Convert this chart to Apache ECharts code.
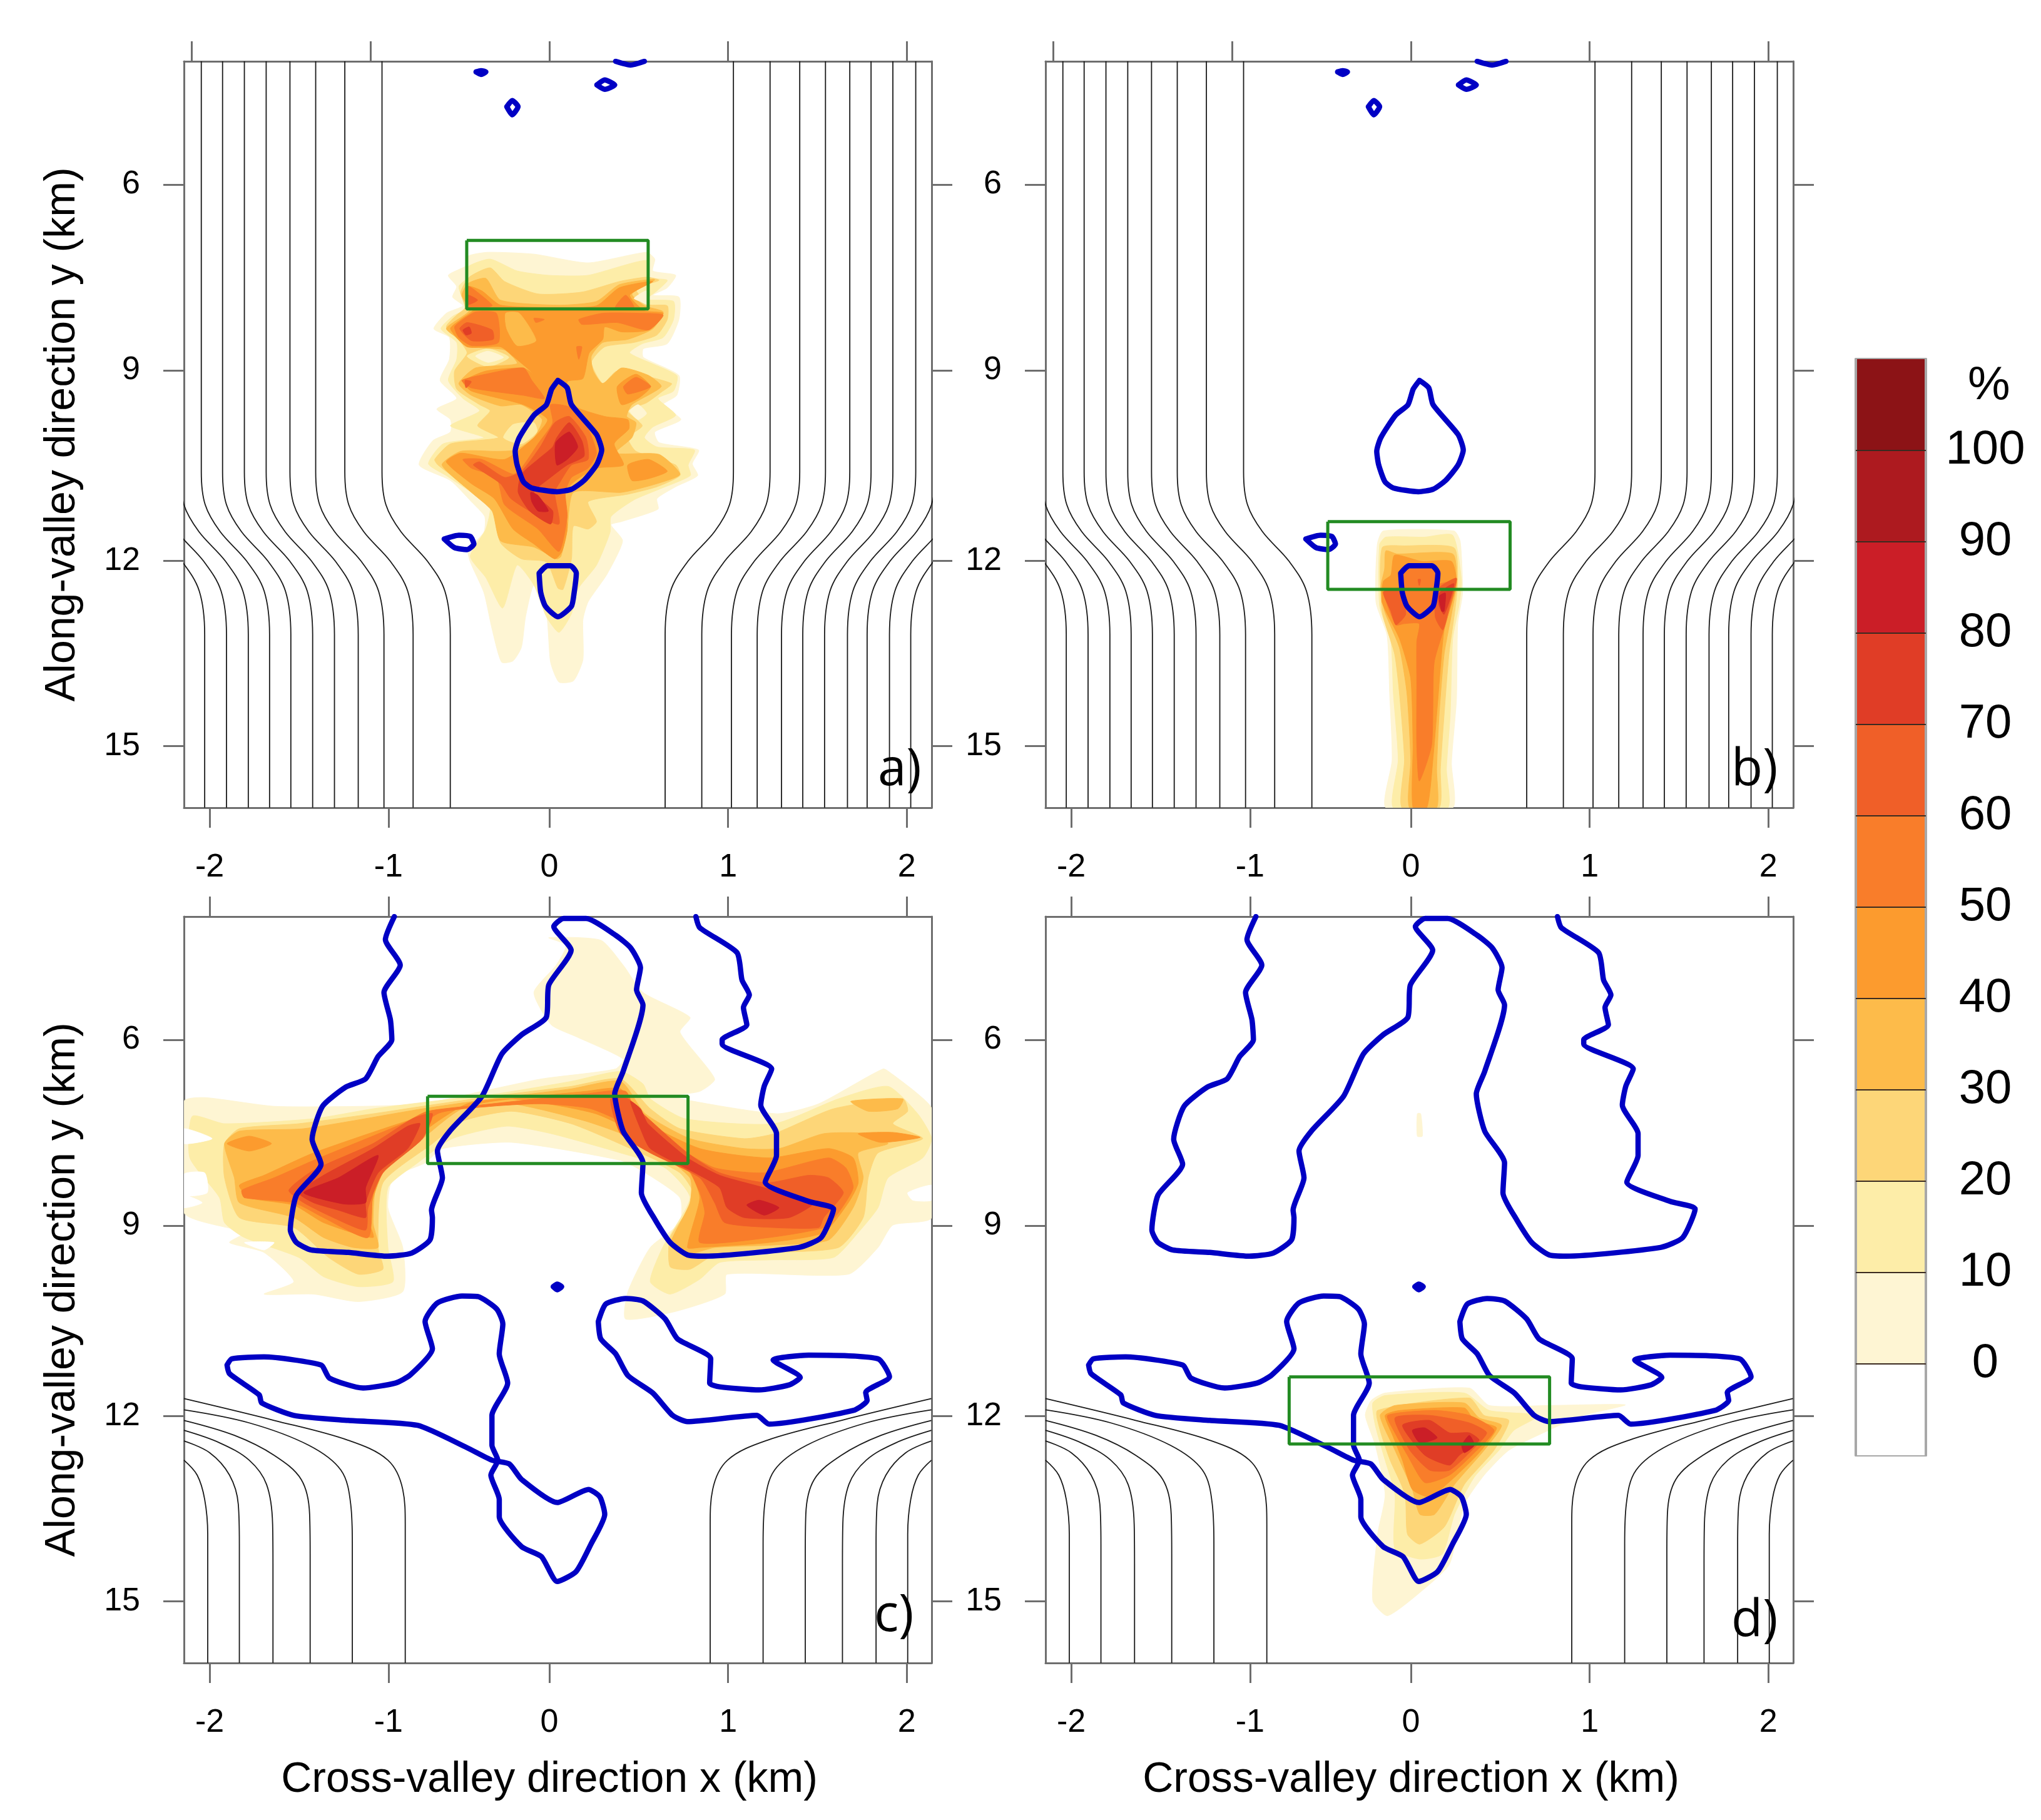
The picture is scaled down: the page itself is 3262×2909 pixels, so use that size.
<!DOCTYPE html>
<html><head><meta charset="utf-8">
<style>html,body{margin:0;padding:0;background:#fff}#c{width:3262px;height:2909px}</style>
<script src="https://cdn.jsdelivr.net/npm/echarts@6/dist/echarts.min.js"></script>
</head><body><div id="c"></div>
<script>
// ---------- axes ----------
const xLabels = ['-2','-1','0','1','2'];
const xTicksTrue = [-2,-1,0,1,2];
const xTicksShifted = [-1.9,-0.9,0,1,2];
const yTicks = [5.98,8.97,12.03,15.01];
const yLabels = ['6','9','12','15'];
const xTitle = 'Cross-valley direction x (km)';
const yTitle = 'Along-valley direction y (km)';
const bandEdges = [-10,0,10,20,30,40,50,60,70,80,90,100,110];
const bandColors = ['#FFFFFF','#FEF5D3','#FDEDA8','#FDD678','#FDBB4A','#FC9B2E','#F97D2A','#F05F28','#E03D26','#CB1E27','#AD1A1F','#8C1316'];
const barLabels = [0,10,20,30,40,50,60,70,80,90,100];

// ---------- terrain streamlines (km) ----------
const streamYab = [4,10.6,11.13,11.56,12.04,12.52,13.22,16];
const streamXab = [
[-.936,-.936,-.914,-.831,-.681,-.584,-.554,-.554],
[-1.144,-1.144,-1.122,-1.039,-.889,-.792,-.762,-.762],
[-1.307,-1.307,-1.285,-1.202,-1.052,-.955,-.925,-.925],
[-1.451,-1.451,-1.429,-1.346,-1.196,-1.099,-1.069,-1.069],
[-1.584,-1.584,-1.562,-1.479,-1.329,-1.232,-1.202,-1.202],
[-1.706,-1.706,-1.684,-1.601,-1.451,-1.354,-1.324,-1.324],
[-1.828,-1.828,-1.806,-1.723,-1.573,-1.476,-1.446,-1.446],
[-1.947,-1.947,-1.925,-1.842,-1.692,-1.595,-1.565,-1.565],
[-2.066,-2.066,-2.044,-1.961,-1.811,-1.714,-1.684,-1.684],
[-2.188,-2.188,-2.166,-2.083,-1.933,-1.836,-1.806,-1.806],
[-2.31,-2.31,-2.288,-2.205,-2.055,-1.958,-1.928,-1.928],
[1.03,1.03,1.008,.925,.775,.678,.648,.648],
[1.235,1.235,1.213,1.13,.98,.883,.853,.853],
[1.401,1.401,1.379,1.296,1.146,1.049,1.019,1.019],
[1.545,1.545,1.523,1.44,1.29,1.193,1.163,1.163],
[1.681,1.681,1.659,1.576,1.426,1.329,1.299,1.299],
[1.80,1.80,1.778,1.695,1.545,1.448,1.418,1.418],
[1.922,1.922,1.90,1.817,1.667,1.57,1.54,1.54],
[2.05,2.05,2.028,1.945,1.795,1.698,1.668,1.668],
[2.16,2.16,2.138,2.055,1.905,1.808,1.778,1.778],
[2.285,2.285,2.263,2.18,2.03,1.933,1.903,1.903],
[2.404,2.404,2.382,2.299,2.149,2.052,2.022,2.022]];
const streamsCD = [
[-2.044,11.75,-1.54,12.10,-1.125,12.42,-.903,12.74,-.82,13.21,-.806,13.77,-.806,16],
[-2.044,11.93,-1.679,12.14,-1.346,12.50,-1.166,12.90,-1.111,13.45,-1.102,14.09,-1.102,16],
[-2.044,12.10,-1.762,12.34,-1.54,12.66,-1.388,13.05,-1.341,13.61,-1.338,14.25,-1.338,16],
[-2.044,12.26,-1.845,12.46,-1.679,12.74,-1.582,13.13,-1.548,13.77,-1.546,14.41,-1.546,16],
[-2.044,12.43,-1.90,12.62,-1.789,12.98,-1.74,13.45,-1.734,14.09,-1.734,14.88,-1.734,16],
[-2.044,12.74,-1.97,12.98,-1.928,13.37,-1.911,13.93,-1.911,14.88,-1.911,16],
[2.138,11.75,1.634,12.10,1.219,12.42,.997,12.74,.914,13.21,.90,13.77,.90,16],
[2.138,11.93,1.773,12.14,1.44,12.50,1.26,12.90,1.205,13.45,1.196,14.09,1.196,16],
[2.138,12.10,1.856,12.34,1.634,12.66,1.482,13.05,1.435,13.61,1.432,14.25,1.432,16],
[2.138,12.26,1.939,12.46,1.773,12.74,1.676,13.13,1.642,13.77,1.64,14.41,1.64,16],
[2.138,12.43,1.994,12.62,1.883,12.98,1.834,13.45,1.828,14.09,1.828,14.88,1.828,16],
[2.138,12.74,2.064,12.98,2.022,13.37,2.005,13.93,2.005,14.88,2.005,16]];

// ---------- blue contours (km) ----------
const blueAB = [
[.048,9.13,.10,9.25,.124,9.52,.264,10.0,.293,10.25,.264,10.49,.194,10.74,.124,10.88,.042,10.92,-.098,10.86,-.145,10.76,-.18,10.49,-.191,10.27,-.168,10.05,-.086,9.69,-.016,9.52,.013,9.27,.048,9.13],
[-.588,11.68,-.506,11.62,-.442,11.64,-.422,11.76,-.46,11.85,-.53,11.82,-.588,11.68],
[-.057,12.23,-.011,12.11,.118,12.11,.151,12.23,.139,12.54,.124,12.76,.048,12.93,-.022,12.76,-.048,12.54,-.057,12.23],
[-.41,4.17,-.382,4.15,-.355,4.17,-.382,4.21,-.41,4.17],
[-.238,4.73,-.208,4.63,-.175,4.73,-.208,4.86,-.238,4.73],
[.266,4.38,.31,4.30,.366,4.38,.31,4.45,.266,4.38],
[.371,4.0,.454,4.06,.532,4.0]];
const blueCD = [
[-.867,4,-.917,4.37,-.834,4.78,-.925,5.22,-.889,5.66,-.881,5.98,-.958,6.25,-1.028,6.61,-1.138,6.74,-1.269,7.05,-1.327,7.58,-1.277,7.98,-1.415,8.48,-1.449,9.04,-1.415,9.24,-1.332,9.36,-1.125,9.40,-.903,9.46,-.77,9.41,-.668,9.20,-.654,8.84,-.659,8.72,-.598,8.20,-.626,7.77,-.557,7.45,-.377,6.89,-.266,6.21,-.155,5.90,-.017,5.62,-.003,5.10,.122,4.54,.025,4.16,.08,4.03,.205,4.03,.371,4.30,.454,4.50,.51,4.82,.488,5.18,.524,5.42,.413,6.49,.366,6.85,.413,7.45,.524,7.96,.515,8.44,.593,8.88,.676,9.24,.773,9.44,.87,9.46,1.396,9.32,1.521,9.16,1.59,8.70,1.451,8.58,1.208,8.27,1.271,7.84,1.271,7.49,1.183,7.03,1.202,6.73,1.244,6.45,.967,6.05,.967,5.98,1.105,5.74,1.086,5.46,1.119,5.26,1.078,5.02,1.05,4.58,.842,4.18,.82,4],
[-1.803,11.21,-1.776,11.11,-1.596,11.08,-1.277,11.21,-1.23,11.42,-1.042,11.58,-.861,11.50,-.778,11.37,-.654,10.95,-.695,10.51,-.626,10.21,-.488,10.10,-.399,10.11,-.294,10.31,-.26,10.55,-.28,11.03,-.233,11.50,-.321,12.02,-.321,12.50,-.288,12.74,-.327,12.98,-.28,13.37,-.28,13.65,-.155,14.13,-.044,14.29,.044,14.69,.15,14.53,.233,14.09,.31,13.61,.283,13.33,.219,13.21,.044,13.42,-.155,13.05,-.224,12.80,-.321,12.74,-.46,12.54,-.737,12.18,-1.125,12.10,-1.429,12.02,-1.609,11.82,-1.623,11.69,-1.789,11.35,-1.803,11.21],
[.274,10.51,.316,10.23,.427,10.14,.524,10.18,.648,10.47,.717,10.79,.903,11.11,.897,11.50,.953,11.56,1.174,11.61,1.341,11.53,1.404,11.41,1.252,11.13,1.451,11.05,1.839,11.11,1.903,11.40,1.77,11.65,1.778,11.78,1.70,11.94,1.23,12.16,1.161,12.02,.773,12.12,.69,12.02,.579,11.66,.44,11.38,.371,11.03,.288,10.79,.274,10.51],
[.022,9.95,.044,9.91,.069,9.95,.044,10.0,.022,9.95]];

// ---------- boxes: x0,x1,y0,y1 (km) ----------
const boxA = [-.462,.553,6.88,7.98];
const boxB = [-.465,.555,11.40,12.49];
const boxC = [-.681,.776,6.89,7.97];
const boxD = [-.681,.776,11.40,12.48];

// ---------- percent contours: [band index, x,y pairs in km] ----------
const fillsA = [
[1,[-.454,7.13,-.343,7.07,-.086,7.10,.217,7.24,.544,7.07,.590,7.18,.579,7.37,.707,7.44,.660,7.64,.579,7.76,.725,7.79,.725,8.15,.660,8.54,.526,8.62,.526,8.76,.725,9.05,.713,9.37,.637,9.52,.736,9.76,.590,9.96,.614,10.13,.835,10.25,.800,10.47,.830,10.66,.707,10.84,.602,11.03,.608,11.20,.404,11.40,.345,11.45,.410,11.71,.322,12.25,.217,12.69,.188,12.98,.188,13.62,.135,13.96,.054,13.98,.007,13.66,-.016,12.88,-.086,12.42,-.133,12.93,-.156,13.42,-.203,13.64,-.267,13.66,-.320,13.13,-.366,12.54,-.442,12.05,-.454,11.86,-.366,11.57,-.361,11.32,-.436,11.08,-.553,10.74,-.728,10.49,-.652,10.10,-.553,9.96,-.553,9.76,-.629,9.59,-.518,9.42,-.611,9.13,-.559,8.79,-.559,8.44,-.646,8.30,-.576,8.05,-.483,7.93,-.541,7.79,-.518,7.62,-.565,7.44,-.454,7.27]],
[2,[-.454,7.30,-.331,7.18,-.180,7.37,-.005,7.44,.217,7.44,.544,7.20,.555,7.47,.660,7.52,.602,7.69,.544,7.83,.695,7.86,.695,8.15,.637,8.44,.520,8.54,.450,8.69,.713,9.05,.695,9.30,.608,9.42,.707,9.69,.579,9.88,.532,10.05,.602,10.20,.812,10.25,.777,10.49,.789,10.66,.614,10.88,.474,11.05,.345,11.32,.340,11.57,.264,12.10,.159,12.49,.124,12.88,.054,13.18,-.016,12.93,-.086,12.42,-.180,12.10,-.261,12.79,-.355,12.30,-.442,11.96,-.355,11.52,-.331,11.13,-.436,10.93,-.576,10.66,-.676,10.47,-.594,10.15,-.366,10.05,-.553,9.86,-.390,9.62,-.483,9.42,-.565,9.13,-.518,8.79,-.518,8.52,-.606,8.30,-.541,8.10,-.471,7.98,-.506,7.62,-.454,7.47]],
[3,[-.448,7.47,-.331,7.32,-.25,7.54,-.063,7.74,.182,7.71,.392,7.54,.544,7.47,.614,7.52,.485,7.66,.555,7.91,.66,7.93,.66,8.15,.602,8.40,.474,8.52,.31,8.59,.235,8.84,.299,9.18,.38,8.98,.684,9.18,.626,9.32,.544,9.49,.439,9.62,.52,9.86,.439,10.05,.485,10.27,.707,10.49,.731,10.66,.602,10.84,.439,10.96,.217,11.08,.264,11.40,.217,11.52,.135,11.47,.124,12.0,.077,12.49,.048,12.47,-.016,12.05,-.156,12.0,-.273,11.74,-.32,11.13,-.46,10.84,-.623,10.49,-.641,10.40,-.553,10.15,-.285,10.05,-.401,9.86,-.331,9.62,-.39,9.52,-.518,9.27,-.53,8.98,-.46,8.69,-.495,8.52,-.576,8.27,-.518,8.08,-.471,7.96,-.495,7.71]],
[2,[-.46,8.74,-.343,8.62,-.226,8.76,-.343,8.91]],
[1,[-.413,8.74,-.343,8.66,-.256,8.76,-.343,8.84]],
[1,[.45,9.62,.497,9.52,.544,9.66,.497,9.76]],
[2,[-.256,10.05,-.203,9.84,-.086,9.81,-.069,9.96,-.156,10.15]],
[4,[-.454,7.57,-.355,7.49,-.273,7.84,.054,7.92,.264,7.86,.392,7.59,.59,7.51,.462,7.74,.532,7.93,.637,8.03,.579,8.30,.439,8.47,.299,8.52,.235,8.74,.246,8.98,.299,9.18,.404,8.93,.555,9.05,.626,9.23,.462,9.52,.433,9.71,.485,9.81,.462,10.05,.369,10.30,.614,10.32,.731,10.64,.602,10.79,.404,10.93,.135,10.93,.10,11.52,.065,11.96,.042,12.0,-.086,11.81,-.273,11.71,-.32,11.23,-.436,10.93,-.60,10.49,-.495,10.27,-.296,10.27,-.191,10.25,-.086,10.05,-.04,9.76,-.156,9.52,-.273,9.54,-.436,9.37,-.506,9.18,-.413,8.93,-.18,8.86,-.25,8.64,-.413,8.59,-.576,8.30,-.448,8.01,-.489,7.76]],
[1,[.474,7.81,.544,7.69,.55,7.91,.509,7.86]],
[5,[-.454,7.62,-.378,7.69,-.273,7.92,.054,7.96,.264,7.93,.392,7.64,.579,7.54,.45,7.76,.532,8.01,.637,8.05,.555,8.32,.404,8.35,.31,8.27,.299,8.47,.223,8.69,.188,9.10,.10,9.15,.124,9.52,.31,9.71,.439,9.76,.445,9.91,.363,10.15,.415,10.49,.264,10.54,.147,10.74,.089,10.93,.10,11.52,.071,11.88,.03,12.0,-.086,11.76,-.203,11.52,-.308,11.03,-.436,10.79,-.576,10.44,-.495,10.30,-.25,10.40,-.086,10.05,-.01,9.76,-.145,9.52,-.436,9.30,-.483,9.15,-.355,8.98,-.145,8.93,-.086,9.03,-.203,8.74,-.273,8.59,-.46,8.59,-.553,8.30,-.495,8.15,-.413,7.96]],
[5,[.439,10.49,.555,10.40,.66,10.59,.555,10.71,.462,10.74]],
[5,[.38,9.23,.485,9.03,.567,9.23,.497,9.42,.404,9.52]],
[4,[-.244,8.05,-.168,8.05,-.075,8.49,-.18,8.57,-.238,8.30]],
[6,[-.53,8.27,-.483,8.15,-.413,8.03,-.296,8.05,-.285,8.52,-.436,8.57,-.506,8.44]],
[6,[-.454,7.62,-.39,7.74,-.32,7.93,-.454,7.97]],
[6,[.165,8.15,.299,8.05,.497,8.05,.637,8.08,.555,8.32,.38,8.20,.182,8.23]],
[6,[.369,7.96,.427,7.76,.474,7.96]],
[6,[-.489,9.13,-.355,9.03,-.145,8.93,-.098,9.13,-.028,9.42,-.145,9.37,-.436,9.25]],
[6,[.415,9.23,.485,9.08,.567,9.23,.439,9.35]],
[6,[.007,9.52,.124,9.57,.217,9.91,.264,10.30,.217,10.54,.124,10.69,.089,10.93,.10,11.32,.054,11.88,-.063,11.52,-.25,11.13,-.296,10.69,-.436,10.54,-.483,10.40,-.378,10.40,-.203,10.64,-.156,10.54,-.063,10.15,.019,9.81]],
[6,[-.086,8.13,-.028,8.15,-.075,8.20]],
[6,[.153,8.59,.182,8.59,.165,8.79]],
[7,[-.501,8.30,-.46,8.20,-.32,8.32,-.314,8.47,-.436,8.49]],
[7,[.03,9.81,.112,9.71,.205,10.05,.217,10.40,.124,10.49,.065,10.74,.03,10.93,.054,11.44,-.086,11.27,-.215,11.03,-.273,10.79,-.425,10.49,-.39,10.44,-.25,10.69,-.156,10.59,-.051,10.20]],
[7,[-.454,7.76,-.401,7.84,-.454,7.91]],
[7,[-.471,9.13,-.436,9.15,-.466,9.25]],
[8,[.042,10.05,.112,9.81,.182,10.10,.194,10.35,.10,10.49,.007,10.69,-.086,10.93,.019,11.23,.007,11.44,-.11,11.23,-.174,10.93,-.156,10.64,-.063,10.40,.019,10.20]],
[8,[-.483,8.32,-.448,8.27,-.436,8.37,-.466,8.40]],
[9,[.036,10.13,.112,9.96,.159,10.20,.10,10.40,.042,10.49]],
[9,[-.104,10.93,-.063,10.98,-.005,11.23,-.063,11.23,-.098,11.08]]
];
const fillsB = [
[1,[-.188,11.77,-.154,11.55,.241,11.55,.276,11.72,.289,12.55,.262,13.04,.255,14.26,.227,15.28,.234,16,-.14,16,-.105,15.23,-.119,14.16,-.133,13.23,-.195,12.70]],
[2,[-.175,11.77,-.14,11.65,.075,11.65,.234,11.62,.283,12.35,.269,12.75,.234,13.28,.22,14.50,.199,15.38,.206,16,-.098,16,-.071,15.23,-.098,14.16,-.112,13.33,-.175,12.75]],
[3,[-.161,11.82,-.036,11.79,.241,11.82,.262,12.35,.248,12.79,.213,13.53,.186,14.50,.165,15.38,.158,16,-.05,16,-.036,15.23,-.064,14.16,-.091,13.53,-.161,12.84]],
[4,[-.147,12.16,-.14,11.87,-.078,11.92,.234,11.92,.255,12.40,.227,12.89,.186,13.53,.158,14.50,.144,15.38,.144,16,-.008,16,-.001,15.23,-.022,14.16,-.064,13.43,-.147,12.84,-.168,12.45]],
[5,[-.091,11.94,.061,12.04,.227,12.04,.255,12.40,.186,13.14,.151,14.26,.123,15.23,.089,16,.012,16,.012,14.99,-.001,13.92,-.064,13.28,-.161,12.70,-.154,12.36,-.112,12.26]],
[6,[-.036,12.16,.123,12.14,.144,12.40,.248,12.36,.199,12.99,.13,13.67,.116,14.99,.047,15.57,.033,14.99,.033,14.01,.033,13.33,.047,13.04,-.036,13.04,-.084,13.06,-.147,12.55,-.064,12.45]],
[7,[-.154,12.53,-.057,12.50,-.029,12.89,-.084,13.06,-.112,12.84]],
[7,[.144,12.50,.255,12.31,.22,12.70,.179,13.14,.137,12.94]],
[7,[.04,12.33,.054,12.33,.047,12.43]],
[8,[.158,12.55,.241,12.40,.186,12.89,.158,12.75]],
[9,[.158,12.60,.193,12.55,.186,12.84,.172,12.84]]
];
const fillsC = [
[1,[-2.044,6.97,-1.928,6.91,-1.54,7.05,-1.042,7.05,-.709,7.01,-.377,6.81,-.044,6.61,.371,6.45,.413,6.29,.15,5.93,.011,5.74,-.086,5.22,.039,4.78,.094,4.46,-.003,4.34,.288,4.38,.413,4.78,.524,5.22,.787,5.62,.731,5.86,.925,6.61,.842,6.81,.676,6.89,1.271,7.17,1.507,7.01,1.867,6.45,1.917,6.53,2.061,6.85,2.139,7.09,2.139,8.84,1.922,8.96,1.839,9.32,1.673,9.75,.994,9.75,.981,10.07,.704,10.35,.427,10.47,.44,10.03,.565,9.32,.731,8.92,.731,8.52,.537,8.12,.399,7.92,-.21,7.63,-.598,7.73,-.695,7.96,-.875,8.20,-.903,8.68,-.82,9.32,-.82,10.03,-1.069,10.19,-1.319,10.07,-1.596,10.07,-1.429,9.87,-1.596,9.40,-1.789,9.24,-1.706,9.08,-2.044,8.76]],
[2,[-1.997,7.21,-1.817,7.33,-1.319,7.25,-.986,7.09,-.654,6.97,-.294,6.85,.122,6.65,.399,6.49,.524,6.69,.565,6.93,.759,7.25,1.258,7.33,1.618,6.93,1.895,6.73,2.061,7.17,2.139,7.57,2.089,7.88,1.895,8.20,1.839,8.68,1.728,9.08,1.59,9.48,1.23,9.52,.953,9.56,.842,9.83,.676,10.07,.565,9.87,.634,9.32,.787,8.52,.648,8.04,.399,7.80,.011,7.49,-.238,7.37,-.543,7.57,-.737,7.96,-.903,8.36,-.903,9.32,-.875,9.87,-1.069,9.95,-1.263,9.79,-1.402,9.48,-1.706,9.16,-1.817,8.92,-1.845,8.52,-2.011,7.88]],
[0,[-2.044,8.14,-1.928,8.12,-1.914,8.44,-2.044,8.48]],
[0,[-2.044,7.41,-1.886,7.57,-2.044,7.65]],
[0,[-2.044,8.48,-1.942,8.60,-2.044,8.68]],
[0,[-1.706,9.24,-1.54,9.24,-1.596,9.36]],
[0,[2.005,8.44,2.139,8.32,2.139,8.56,2.033,8.56]],
[3,[-1.817,7.65,-1.734,7.41,-1.402,7.33,-.986,7.17,-.709,7.05,-.321,6.89,.122,6.73,.399,6.61,.565,7.09,.731,7.41,1.091,7.57,1.258,7.49,1.59,7.09,1.978,6.93,2.005,7.13,1.922,7.33,2.089,7.57,1.839,7.80,1.784,8.20,1.756,8.84,1.618,9.32,1.23,9.40,.925,9.44,.787,9.67,.676,9.63,.676,9.16,.814,8.52,.731,8.12,.454,7.73,.122,7.33,-.21,7.13,-.488,7.29,-.654,7.65,-.931,8.28,-.958,9.32,-.931,9.67,-1.069,9.75,-1.235,9.48,-1.429,9.0,-1.734,8.84,-1.817,8.20]],
[4,[-1.817,7.65,-1.734,7.45,-1.374,7.41,-.709,7.09,-.321,6.93,.122,6.77,.399,6.65,.537,7.17,.787,7.57,1.091,7.73,1.285,7.73,1.535,7.49,1.784,7.49,1.895,7.65,1.728,7.80,1.756,8.20,1.70,8.68,1.562,9.20,1.258,9.28,.925,9.32,.759,9.44,.676,9.28,.787,8.60,.787,8.20,.537,7.65,.205,7.29,-.21,7.01,-.488,7.09,-.709,7.57,-.958,8.20,-.986,8.92,-.958,9.32,-1.097,9.32,-1.263,9.16,-1.429,8.84,-1.734,8.60,-1.762,8.20]],
[4,[1.687,6.97,1.978,6.93,1.95,7.09,1.784,7.13]],
[5,[-1.319,7.80,-.709,7.21,-.321,6.97,.205,6.81,.399,6.77,.51,7.25,.842,7.73,1.23,7.88,1.562,7.73,1.70,7.88,1.728,8.28,1.673,8.60,1.535,9.08,1.23,9.24,.842,9.32,.773,9.32,.842,8.52,.787,8.12,.593,7.65,.26,7.17,-.21,6.93,-.46,7.01,-.681,7.41,-.931,8.12,-1.014,8.84,-.986,9.16,-1.263,8.92,-1.429,8.64,-1.679,8.52,-1.734,8.32,-1.596,8.16]],
[5,[-1.803,7.65,-1.679,7.53,-1.554,7.65,-1.679,7.77]],
[5,[1.728,7.49,1.922,7.47,2.075,7.55,1.853,7.63]],
[6,[-1.72,8.40,-1.54,8.20,-1.319,7.92,-.82,7.33,-.681,7.13,-.321,7.01,.205,6.85,.427,6.81,.496,7.25,.731,7.73,.925,8.04,1.202,8.12,1.562,7.88,1.659,8.04,1.70,8.36,1.618,8.76,1.535,9.0,1.23,9.16,.842,9.24,.87,8.76,.842,8.44,.759,7.96,.537,7.49,.233,7.09,-.044,7.01,-.321,7.05,-.626,7.17,-.903,7.88,-.986,8.44,-1.014,9.16,-1.263,8.84,-1.429,8.60,-1.706,8.52]],
[7,[-1.457,8.40,-1.319,8.08,-.986,7.65,-.765,7.25,-.654,7.17,-.709,7.57,-.931,8.12,-1.014,8.68,-1.028,9.04,-1.208,8.84,-1.374,8.60]],
[7,[.343,6.93,.44,6.93,.524,7.17,.773,7.80,.953,8.12,1.216,8.28,1.451,8.16,1.562,8.20,1.645,8.44,1.535,8.84,1.507,9.0,1.258,9.0,.981,8.92,.925,8.60,.842,8.20,.565,7.80,.399,7.49]],
[8,[-1.402,8.44,-1.263,8.16,-.986,7.73,-.792,7.37,-.723,7.33,-.792,7.73,-.958,8.12,-1.028,8.60,-1.028,8.84,-1.18,8.72,-1.319,8.60]],
[8,[.454,6.97,.51,7.09,.551,7.33,.773,7.88,.953,8.16,1.202,8.36,1.479,8.60,1.341,8.84,1.091,8.84,.994,8.68,.953,8.36,.814,8.12,.565,7.73,.51,7.41]],
[9,[-1.374,8.44,-1.18,8.20,-.958,7.84,-1.028,8.36,-1.028,8.60,-1.152,8.62]],
[9,[1.105,8.64,1.174,8.56,1.285,8.68,1.202,8.80]]
];
const fillsD = [
[1,[-.222,11.78,-.144,11.66,.327,11.58,.438,11.86,.77,11.86,1.199,11.85,.964,12.02,.77,12.26,.548,12.58,.41,12.98,.299,13.45,.216,14.41,.078,14.80,-.13,15.24,-.213,15.0,-.186,13.93,-.144,13.29,-.199,12.50,-.255,12.02]],
[1,[.036,7.17,.055,7.17,.064,7.53,.036,7.53]],
[2,[-.213,11.82,-.144,11.70,.299,11.66,.438,11.94,.715,12.02,.576,12.26,.493,12.58,.355,13.01,.244,13.61,.175,14.25,.05,14.33,-.089,14.17,-.089,13.29,-.144,12.74,-.199,12.18]],
[3,[-.186,11.94,.327,11.74,.41,12.02,.548,12.10,.465,12.58,.299,13.13,.188,13.81,.05,14.09,-.019,13.93,-.033,13.29,-.116,12.74,-.172,12.26]],
[4,[-.172,12.02,-.089,11.86,.299,11.82,.382,12.06,.507,12.18,.41,12.58,.244,13.13,.133,13.61,.05,13.61,.008,13.21,-.089,12.58]],
[5,[-.144,12.02,-.061,11.94,.299,11.90,.355,12.10,.479,12.22,.382,12.62,.23,13.05,.105,13.33,.008,13.21,-.047,12.74,-.102,12.34]],
[6,[-.13,12.02,.133,11.94,.327,12.02,.465,12.26,.355,12.62,.216,12.98,.078,13.10,-.019,12.66,-.089,12.30]],
[7,[-.089,12.06,.105,12.02,.327,12.14,.424,12.30,.327,12.62,.216,12.90,.105,12.90,-.006,12.58]],
[8,[-.047,12.18,.105,12.10,.216,12.30,.327,12.30,.382,12.42,.271,12.66,.216,12.82,.078,12.66]],
[9,[.008,12.26,.078,12.22,.147,12.38,.05,12.46]],
[9,[.285,12.50,.327,12.34,.355,12.50,.299,12.62]]
];

// ---------- builders ----------
function pairs(f){const o=[];for(let i=0;i<f.length;i+=2)o.push([f[i],f[i+1]]);return o;}
const GRAY='#6e6e6e';
const panels=[
 {left:294,top:98,fills:fillsA,box:boxA,blue:blueAB,streams:'ab',topTicks:xTicksTrue,xname:false,yname:true,tag:'a)',tx:1398,ty:1186},
 {left:1671,top:98,fills:fillsB,box:boxB,blue:blueAB,streams:'ab',topTicks:xTicksTrue,xname:false,yname:false,tag:'b)',tx:2762,ty:1186},
 {left:294,top:1465,fills:fillsC,box:boxC,blue:blueCD,streams:'cd',topTicks:xTicksShifted,xname:true,yname:true,tag:'c)',tx:1392,ty:2538},
 {left:1671,top:1465,fills:fillsD,box:boxD,blue:blueCD,streams:'cd',topTicks:xTicksShifted,xname:true,yname:false,tag:'d)',tx:2762,ty:2546}
];
const grid=[],xAxis=[],yAxis=[],series=[],title=[];
const FONT='"Liberation Sans",Arial,sans-serif';
const line={lineStyle:{color:GRAY,width:3}};
panels.forEach((p,i)=>{
  grid.push({left:p.left,top:p.top,width:1195,height:1193});
  const xb=i*2,xt=i*2+1,yl=i*2,yr=i*2+1;
  xAxis.push({gridIndex:i,type:'value',position:'bottom',min:-2.044,max:2.139,splitLine:{show:false},
    axisLine:{show:true,onZero:false,...line},
    axisTick:{show:true,customValues:xTicksShifted,length:32,...line},
    axisLabel:{show:true,customValues:xTicksShifted,margin:70,fontFamily:FONT,fontSize:52,color:'#000',
      formatter:v=>xLabels[xTicksShifted.indexOf(v)]},
    name:p.xname?xTitle:'',nameLocation:'middle',nameGap:153,
    nameTextStyle:{fontFamily:FONT,fontSize:68,color:'#000',padding:[0,27,0,0]}});
  xAxis.push({gridIndex:i,type:'value',position:'top',min:-2.044,max:2.139,splitLine:{show:false},
    axisLine:{show:true,onZero:false,...line},
    axisTick:{show:true,customValues:p.topTicks,length:32,...line},axisLabel:{show:false}});
  yAxis.push({gridIndex:i,type:'value',position:'left',inverse:true,min:4,max:16,splitLine:{show:false},
    axisLine:{show:true,onZero:false,...line},
    axisTick:{show:true,customValues:yTicks,length:33,...line},
    axisLabel:{show:true,customValues:yTicks,margin:70,fontFamily:FONT,fontSize:52,color:'#000',
      formatter:v=>yLabels[yTicks.indexOf(v)]},
    name:p.yname?yTitle:'',nameLocation:'middle',nameGap:160,
    nameTextStyle:{fontFamily:FONT,fontSize:68,color:'#000'}});
  yAxis.push({gridIndex:i,type:'value',position:'right',inverse:true,min:4,max:16,splitLine:{show:false},
    axisLine:{show:true,onZero:false,...line},
    axisTick:{show:true,customValues:yTicks,length:33,...line},axisLabel:{show:false}});
  // streamlines
  const sl=p.streams==='ab'?streamXab.map(xs=>xs.map((x,k)=>[x,streamYab[k]])):streamsCD.map(pairs);
  sl.forEach(d=>series.push({type:'line',xAxisIndex:xb,yAxisIndex:yl,data:d,showSymbol:false,smooth:0.35,silent:true,z:1,
    lineStyle:{color:'#1a1a1a',width:1.8}}));
  // filled contours
  series.push({type:'custom',xAxisIndex:xb,yAxisIndex:yl,silent:true,z:2,clip:true,progressive:0,
    data:p.fills.map(f=>[f[1][0],f[1][1]]),
    renderItem:(params,api)=>{
      const f=p.fills[params.dataIndex];
      const color=bandColors[f[0]];
      return {type:'polygon',shape:{points:pairs(f[1]).map(q=>api.coord(q)),smooth:0.2},
        style:{fill:color,stroke:color,lineWidth:1},z2:params.dataIndex};
    }});
  // blue
  p.blue.forEach(b=>series.push({type:'line',xAxisIndex:xb,yAxisIndex:yl,data:pairs(b),showSymbol:false,smooth:0.2,silent:true,z:5,
    lineStyle:{color:'#0000C4',width:8.5,join:'round',cap:'round'}}));
  // box
  const [a,c,d,e]=p.box;
  series.push({type:'line',xAxisIndex:xb,yAxisIndex:yl,data:[[a,d],[c,d],[c,e],[a,e],[a,d]],showSymbol:false,silent:true,z:6,
    lineStyle:{color:'#228B22',width:5}});
  title.push({text:p.tag,left:p.tx,top:p.ty,textStyle:{fontFamily:'"Open Sans"',fontSize:82,fontWeight:'normal',color:'#000'}});
});
// colour bar
grid.push({left:2966,top:574,width:112,height:1752});
xAxis.push({gridIndex:4,type:'value',min:0,max:1,position:'bottom',axisLine:{show:true,onZero:false,lineStyle:{color:'#a8a8a8',width:4}},axisTick:{show:false},axisLabel:{show:false},splitLine:{show:false}});
xAxis.push({gridIndex:4,type:'value',min:0,max:1,position:'top',axisLine:{show:true,onZero:false,lineStyle:{color:'#a8a8a8',width:4}},axisTick:{show:false},axisLabel:{show:false},splitLine:{show:false}});
yAxis.push({gridIndex:4,type:'value',min:-10,max:110,position:'right',z:8,splitLine:{show:false},
  axisLine:{show:true,onZero:false,lineStyle:{color:'#a8a8a8',width:4}},
  axisTick:{show:true,inside:true,customValues:barLabels,length:112,lineStyle:{color:'#3a2a20',width:2}},
  axisLabel:{show:true,customValues:barLabels,margin:95,align:'center',padding:[10,0,0,0],fontFamily:FONT,fontSize:76,color:'#000'}});
yAxis.push({gridIndex:4,type:'value',min:-10,max:110,position:'left',z:8,splitLine:{show:false},
  axisLine:{show:true,onZero:false,lineStyle:{color:'#a8a8a8',width:4}},axisTick:{show:false},axisLabel:{show:false}});
series.push({type:'custom',xAxisIndex:8,yAxisIndex:8,silent:true,z:2,
  data:bandColors.map((c,i)=>[0,bandEdges[i]]),
  renderItem:(params,api)=>{
    const i=params.dataIndex;
    const a=api.coord([0,bandEdges[i]]),b=api.coord([1,bandEdges[i+1]]);
    return {type:'rect',shape:{x:a[0],y:b[1],width:b[0]-a[0],height:a[1]-b[1]},style:{fill:bandColors[i]}};
  }});
title.push({text:'%',left:3140,top:574,textStyle:{fontFamily:FONT,fontSize:76,fontWeight:'normal',color:'#000'}});

const chart=echarts.init(document.getElementById('c'),null,{renderer:'canvas'});
chart.setOption({animation:false,backgroundColor:'#fff',tooltip:{show:false},title,grid,xAxis,yAxis,series});
</script></body></html>
